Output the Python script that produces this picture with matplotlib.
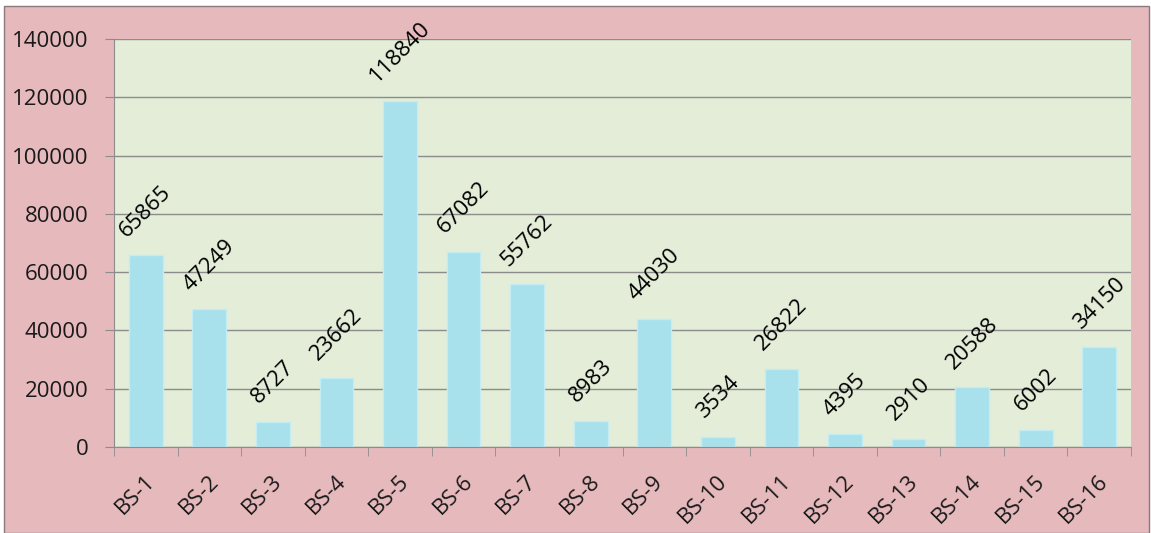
import matplotlib
matplotlib.use("Agg")
import matplotlib.pyplot as plt
import matplotlib.transforms as mtransforms
from matplotlib.patches import Rectangle

# Данные
categories = ["BS-1", "BS-2", "BS-3", "BS-4", "BS-5", "BS-6", "BS-7", "BS-8",
              "BS-9", "BS-10", "BS-11", "BS-12", "BS-13", "BS-14", "BS-15", "BS-16"]
values = [65865, 47249, 8727, 23662, 118840, 67082, 55762, 8983,
          44030, 3534, 26822, 4395, 2910, 20588, 6002, 34150]
y_ticks = [0, 20000, 40000, 60000, 80000, 100000, 120000, 140000]

plt.rcParams['font.family'] = ['Open Sans', 'DejaVu Sans']

fig = plt.figure(figsize=(11.51, 5.33), dpi=100, facecolor="white")
# Розовый фон с рамкой
bg = Rectangle((4 / 1151, 0), 1 - 6 / 1151, 1 - 6 / 533,
               transform=fig.transFigure, facecolor="#E6B9BD",
               edgecolor="#8a7a7c", linewidth=1, zorder=-10)
fig.add_artist(bg)

ax = fig.add_axes([114 / 1151, 1 - 447 / 533, (1131 - 114) / 1151, (447 - 39) / 533])
ax.set_zorder(1)
ax.set_facecolor("#E3EDD8")

x = range(len(categories))
ax.bar(x, values, width=0.53, color="#A8E0EC", edgecolor="#C2EDF5", linewidth=1, zorder=2)

# Подписи значений
for i, v in enumerate(values):
    ax.annotate(str(v), (i, v), xytext=(0, 10), textcoords="offset points",
                rotation=45, ha="center", va="bottom", fontsize=16,
                color="black", zorder=3)

ax.set_xlim(-0.5, len(categories) - 0.5)
ax.set_ylim(0, 140000)
ax.set_yticks(y_ticks)
ax.set_yticklabels([str(t) for t in y_ticks], fontsize=16, color="#1a1a1a")
ax.grid(axis="y", color="#8c8c8c", linewidth=1, zorder=1)
ax.set_axisbelow(True)

# Подписи категорий
ax.set_xticks([i for i in x])
ax.set_xticklabels(categories, rotation=45, ha="right", va="top",
                   rotation_mode="anchor", fontsize=16, color="#1a1a1a")
ax.tick_params(axis="x", length=0, pad=17)
shift = mtransforms.ScaledTranslation(-1 / 72, 0, fig.dpi_scale_trans)
for lbl in ax.get_xticklabels():
    lbl.set_transform(lbl.get_transform() + shift)
# Деления на границах категорий
ax.set_xticks([i - 0.5 for i in range(len(categories) + 1)], minor=True)
ax.tick_params(axis="x", which="minor", length=6.5, color="#8c8c8c", direction="out")
ax.tick_params(axis="y", length=6.5, color="#8c8c8c", direction="out", pad=12)

for side in ["top", "right"]:
    ax.spines[side].set_visible(False)
ax.spines["left"].set_color("#8c8c8c")
ax.spines["bottom"].set_color("#8c8c8c")

fig.savefig("out.png", dpi=100, facecolor=fig.get_facecolor())
plt.close()
